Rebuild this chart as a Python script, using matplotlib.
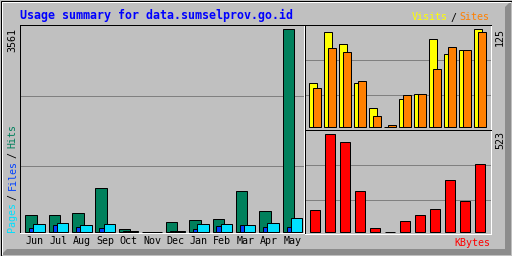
import matplotlib
matplotlib.use('Agg')
import matplotlib.pyplot as plt
from matplotlib.patches import Polygon

# datos mensuales
months = ['Jun', 'Jul', 'Aug', 'Sep', 'Oct', 'Nov', 'Dec', 'Jan', 'Feb', 'Mar', 'Apr', 'May']
hits = [311, 311, 346, 785, 65, 5, 188, 223, 241, 733, 381, 3561]
files = [83, 135, 100, 83, 18, 2, 17, 58, 118, 135, 100, 100]
pages = [153, 170, 135, 153, 30, 3, 30, 153, 153, 135, 170, 258]
visits = [57, 122, 106, 57, 24, 1, 36, 42, 112, 94, 98, 125]
sites = [50, 101, 96, 59, 14, 3, 41, 42, 75, 103, 98, 121]
kbytes = [117, 523, 480, 219, 21, 3, 59, 91, 123, 278, 165, 363]

W, H = 512, 256
BG = '#c0c0c0'
MONO = 'DejaVu Sans Mono'
px = 0.72  # 1 pixel en puntos

fig = plt.figure(figsize=(W / 100, H / 100), dpi=100, facecolor=BG)

# marco de fondo en coordenadas de pixel
bg = fig.add_axes([0, 0, 1, 1], zorder=0)
bg.set_xlim(0, W)
bg.set_ylim(H, 0)
bg.axis('off')
bg.add_patch(Polygon([[1, H - 1], [W - 1, H - 1], [W - 1, 1], [W - 7, 7], [W - 7, H - 7], [7, H - 7]],
                     closed=True, facecolor='#8c8c8c', edgecolor='none'))
bg.plot([1.5, W - 2], [1.5, 1.5], color='white', lw=px)
bg.plot([1.5, 1.5], [1.5, H - 2], color='white', lw=px)
bg.add_patch(plt.Rectangle((0.5, 0.5), W - 1, H - 1, fill=False, edgecolor='black', lw=px))


def place(x0, y0, x1, y1):
    ax = fig.add_axes([x0 / W, 1 - y1 / H, (x1 - x0) / W, (y1 - y0) / H], zorder=1)
    ax.set_facecolor(BG)
    ax.spines['top'].set_color('black')
    ax.spines['left'].set_color('black')
    ax.spines['bottom'].set_color('white')
    ax.spines['right'].set_color('white')
    for sp in ax.spines.values():
        sp.set_linewidth(px)
    ax.set_yticks([])
    return ax


edge = dict(edgecolor='black', linewidth=px, align='edge')
idx = list(range(len(months)))

# panel izquierdo: hits / files / pages
ax = place(20, 25, 304, 233)
s = max(hits) / 203.0
ax.set_ylim(-0.7 * s, 207.3 * s)
ax.set_xlim(-5.3 / 23.4, (284 - 5.3) / 23.4)
for g in (66.6, 136.6):
    ax.axhline(g * s, color='#808080', lw=px, zorder=0)
ax.bar(idx, hits, width=11.4 / 23.4, color='#00805c', **edge)
ax.bar([i + 4 / 23.4 for i in idx], files, width=11.4 / 23.4, color='#0040ff', **edge)
ax.bar([i + 8 / 23.4 for i in idx], pages, width=11.4 / 23.4, color='#00e0ff', **edge)
ax.set_xticks([i + 9.7 / 23.4 for i in idx])
ax.set_xticklabels(months, family=MONO, fontsize=7.2)
ax.tick_params(axis='x', length=0, pad=2.4)

# panel derecho arriba: visits / sites
ax2 = place(305, 25, 491, 129.5)
s2 = max(visits) / 98.0
ax2.set_ylim(-2.2 * s2, 102.3 * s2)
ax2.set_xlim(-4.3 / 15, (186 - 4.3) / 15)
for g in (32, 67):
    ax2.axhline(g * s2, color='#808080', lw=px, zorder=0)
ax2.bar(idx, visits, width=7.4 / 15, color='#ffff00', **edge)
ax2.bar([i + 4 / 15 for i in idx], sites, width=7.4 / 15, color='#ff8000', **edge)
ax2.set_xticks([])

# panel derecho abajo: kbytes
ax3 = place(305, 130, 491, 234)
s3 = max(kbytes) / 98.0
ax3.set_ylim(-1.7 * s3, 102.3 * s3)
ax3.set_xlim(-4.3 / 15, (186 - 4.3) / 15)
for g in (32, 67):
    ax3.axhline(g * s3, color='#808080', lw=px, zorder=0)
ax3.bar([i + 1 / 15 for i in idx], kbytes, width=9.4 / 15, color='#ff0000', **edge)
ax3.set_xticks([])

# textos
bg.text(20, 19, 'Usage summary for data.sumselprov.go.id', family=MONO, fontweight='bold',
        fontsize=8.4, color='#0000ff', ha='left', va='baseline')
bg.text(411.5, 20.5, 'Visits', family=MONO, fontsize=7.2, color='#ffff00', ha='left', va='baseline')
bg.text(450.5, 20.5, '/', family=MONO, fontsize=7.2, color='black', ha='left', va='baseline')
bg.text(459.5, 20.5, 'Sites', family=MONO, fontsize=7.2, color='#ff8000', ha='left', va='baseline')
bg.text(490, 245.5, 'KBytes', family=MONO, fontsize=7.2, color='#ff0000', ha='right', va='baseline')

bg.text(12.5, 27.5, str(max(hits)), family=MONO, fontsize=7.2, rotation=90, ha='center', va='top')
bg.text(500, 27.5, str(max(visits)), family=MONO, fontsize=7.2, rotation=90, ha='center', va='top')
bg.text(500, 131, str(max(kbytes)), family=MONO, fontsize=7.2, rotation=90, ha='center', va='top')

y = 232.5
for word, col in [('Pages', '#00e0ff'), ('/', 'black'), ('Files', '#0040ff'), ('/', 'black'), ('Hits', '#00805c')]:
    bg.text(12.5, y, word, family=MONO, fontsize=7.2, rotation=90, color=col, ha='center', va='bottom')
    y -= len(word) * 6 + 3

fig.savefig('out.png', dpi=100, facecolor=BG)
